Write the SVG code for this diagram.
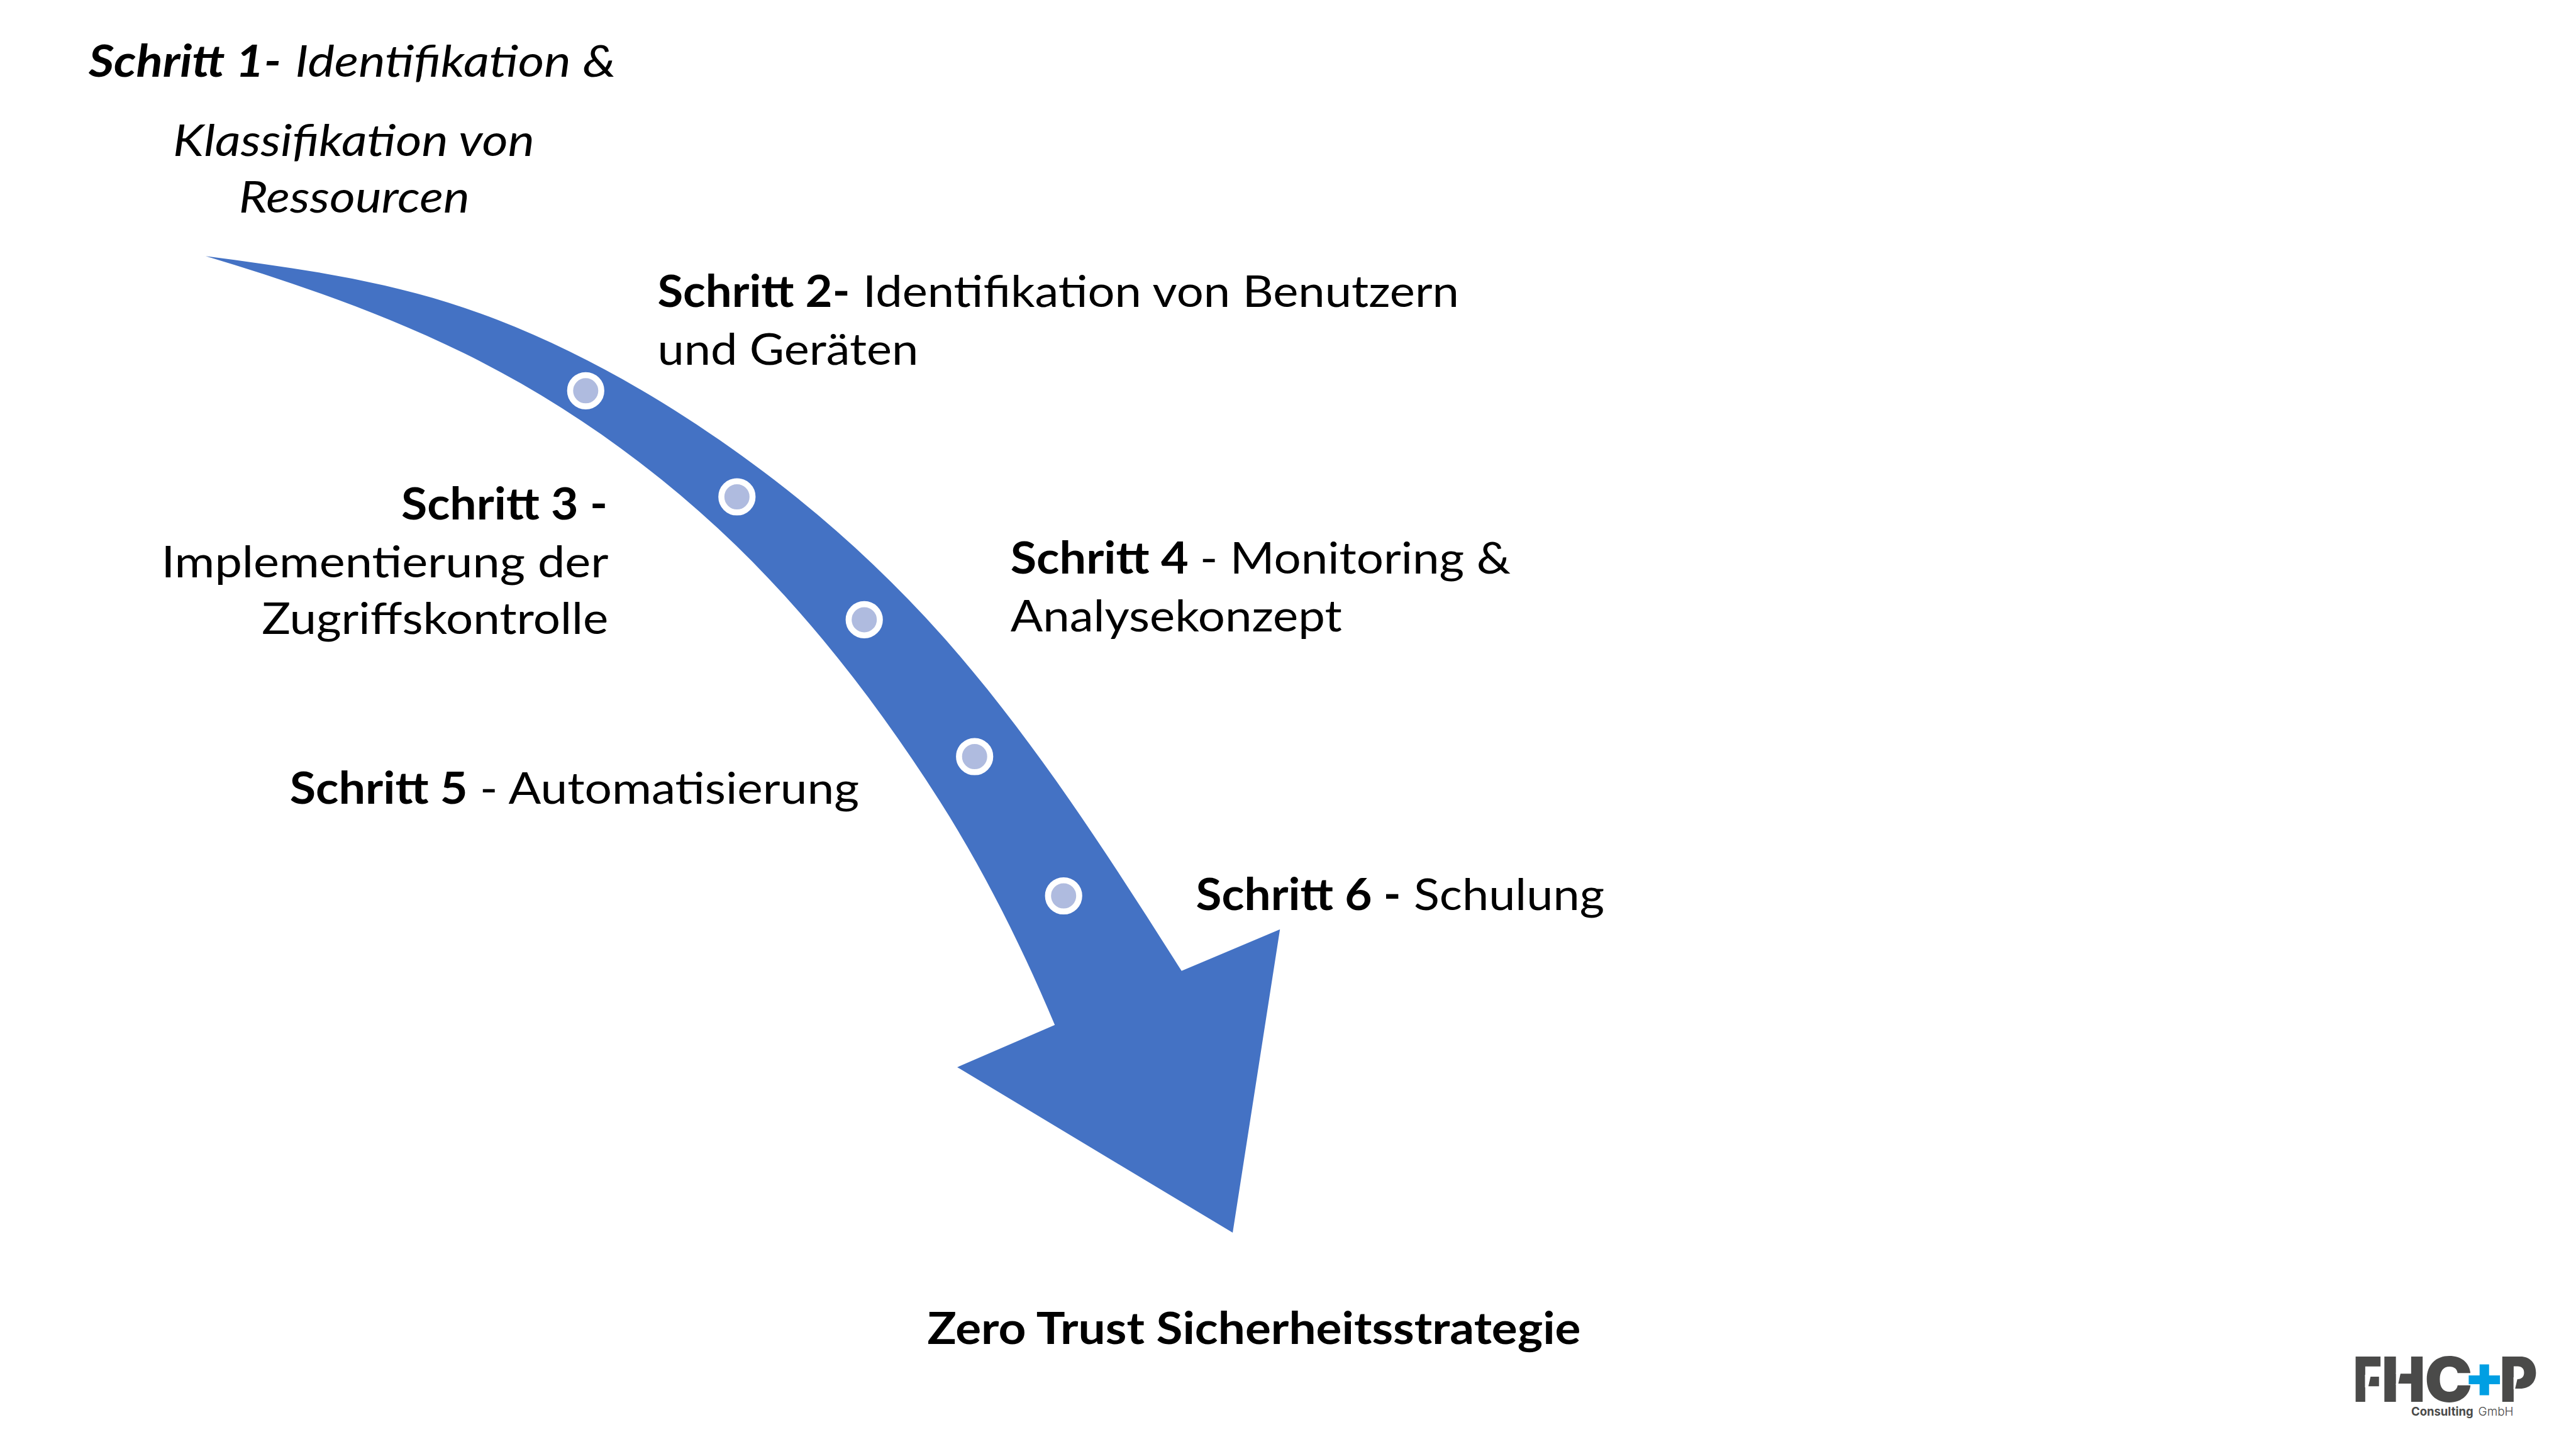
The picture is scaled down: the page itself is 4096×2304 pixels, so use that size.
<svg xmlns="http://www.w3.org/2000/svg" width="4096" height="2304" viewBox="0 0 4096 2304">
<defs>
<style>
text{font-family:"Lato","Liberation Sans",sans-serif;font-size:70.5px;fill:#000}
.b{font-weight:700}
.i{font-style:italic}
.dot{fill:#afbbdf;stroke:#fff;stroke-width:9.6}
.logo{font-family:"Inter","Liberation Sans",sans-serif;font-weight:900;font-size:98.6px;fill:#4a4a49}
.plus{fill:#009fe3}
.sub{font-family:"Inter","Liberation Sans",sans-serif;font-size:19.3px;fill:#4a4a49}
.cut{fill:#fff}
</style>
</defs>
<rect width="4096" height="2304" fill="#fff"/>
<g id="connectors">
<path id="curved-arrow" fill="#4472c4" transform="scale(0.585)" d="M559 696C781 725 1006 756 1220 823C1494 909 1751 1052 1986 1217C2196 1365 2390 1536 2561 1728C2809 2008 3011 2323 3211.6 2639L3479 2526L3350.5 3350.5L2601.8 2900.7L2867 2786C2779 2576 2676 2369 2554 2177C2395 1927 2212 1688 2000 1482C1783 1272 1532 1093 1261 960C1037 850 799 768 559 696Z"/>
</g>
<g id="dots">
<circle class="dot" cx="931.3" cy="621.3" r="24.8"/>
<circle class="dot" cx="1171.8" cy="790" r="24.8"/>
<circle class="dot" cx="1374.2" cy="985.4" r="24.8"/>
<circle class="dot" cx="1549.7" cy="1203" r="24.8"/>
<circle class="dot" cx="1691.2" cy="1424.5" r="24.8"/>
</g>
<g id="step1">
<text class="b i" x="141" y="122.3" textLength="306" lengthAdjust="spacingAndGlyphs">Schritt 1-</text>
<text class="i" x="469.2" y="122.3" textLength="510" lengthAdjust="spacingAndGlyphs">Identifikation &amp;</text>
<text class="i" x="275" y="247.5" textLength="575" lengthAdjust="spacingAndGlyphs">Klassifikation von</text>
<text class="i" x="379.7" y="337.5" textLength="367" lengthAdjust="spacingAndGlyphs">Ressourcen</text>
</g>
<g id="step2">
<text class="b" x="1045.4" y="487.6" textLength="306" lengthAdjust="spacingAndGlyphs">Schritt 2-</text>
<text x="1372" y="487.6" textLength="948" lengthAdjust="spacingAndGlyphs">Identifikation von Benutzern</text>
<text x="1045.4" y="579.7" textLength="415" lengthAdjust="spacingAndGlyphs">und Geräten</text>
</g>
<g id="step3">
<text class="b" x="638" y="826" textLength="328" lengthAdjust="spacingAndGlyphs">Schritt 3 -</text>
<text x="256.5" y="918" textLength="711" lengthAdjust="spacingAndGlyphs">Implementierung der</text>
<text x="416.3" y="1008" textLength="551" lengthAdjust="spacingAndGlyphs">Zugriffskontrolle</text>
</g>
<g id="step4">
<text class="b" x="1606.8" y="912" textLength="283" lengthAdjust="spacingAndGlyphs">Schritt 4</text>
<text x="1908" y="912" textLength="494" lengthAdjust="spacingAndGlyphs">- Monitoring &amp;</text>
<text x="1606.8" y="1004" textLength="527" lengthAdjust="spacingAndGlyphs">Analysekonzept</text>
</g>
<g id="step5">
<text class="b" x="460.7" y="1277.6" textLength="283" lengthAdjust="spacingAndGlyphs">Schritt 5</text>
<text x="763" y="1277.6" textLength="603" lengthAdjust="spacingAndGlyphs">- Automatisierung</text>
</g>
<g id="step6">
<text class="b" x="1901.6" y="1446.7" textLength="326" lengthAdjust="spacingAndGlyphs">Schritt 6 -</text>
<text x="2248" y="1446.7" textLength="303" lengthAdjust="spacingAndGlyphs">Schulung</text>
</g>
<g id="goal">
<text class="b" x="1474.5" y="2137" textLength="1039" lengthAdjust="spacingAndGlyphs">Zero Trust Sicherheitsstrategie</text>
</g>
<g id="logo">
<text class="logo" transform="translate(3741.9 2229.3) scale(.784 1)">F</text>
<text class="logo" transform="translate(3787.1 2229.3) scale(.94 1)">H</text>
<text class="logo" transform="translate(3855.3 2229.3) scale(1.034 1)">C</text>
<text class="logo plus" transform="translate(3917.5 2221) scale(.958 .94)">+</text>
<text class="logo" transform="translate(3974.4 2229.3) scale(.93 1)">P</text>
<polygon class="cut" points="3760.5,2186 3770,2186 3765.5,2206 3760.5,2206"/>
<polygon class="cut" points="3809.7,2183 3817.2,2183 3813,2202 3809.7,2202"/>
<polygon class="cut" points="3996.6,2190 4003.4,2190 3999,2209 3996.6,2209"/>
<text class="sub" x="3834" y="2250.9" font-weight="700" textLength="98.6" lengthAdjust="spacingAndGlyphs">Consulting</text>
<text class="sub" x="3940.6" y="2250.9" font-weight="300" textLength="56" lengthAdjust="spacingAndGlyphs">GmbH</text>
</g>
</svg>
